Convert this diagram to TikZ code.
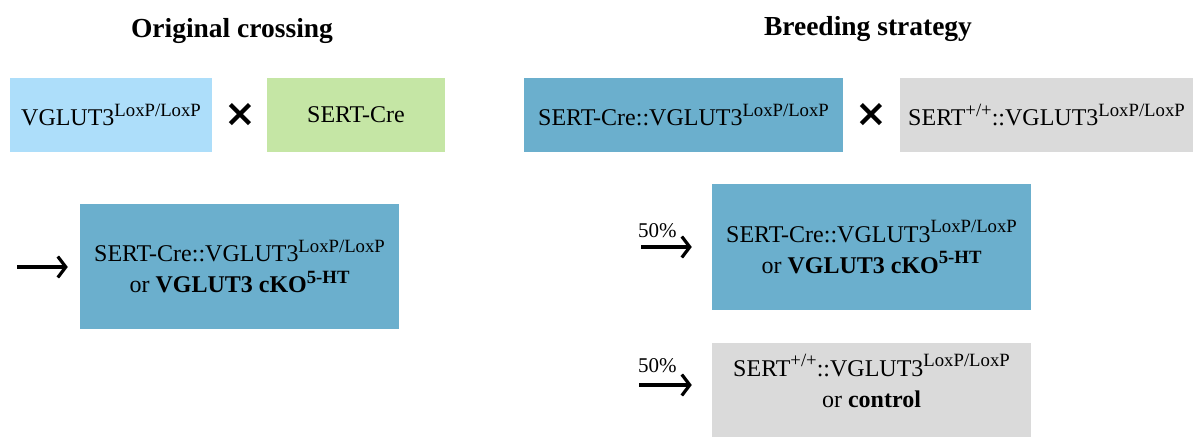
\documentclass[tikz,border=0pt]{standalone}
\usepackage{fontspec}
\usepackage{graphicx}
\setmainfont{Liberation Serif}
\newfontfamily\symf{DejaVu Sans}
\usetikzlibrary{arrows.meta}
\definecolor{lblue}{HTML}{ADDEFA}
\definecolor{lgreen}{HTML}{C5E6A5}
\definecolor{mblue}{HTML}{6BAFCD}
\definecolor{lgray}{HTML}{DADADA}
\newcommand\fa{\fontsize{24}{31}\selectfont}
\newcommand\supr[1]{\raisebox{0.4em}{\scalebox{0.78}{#1}}}
\tikzset{
  gbox/.style={rectangle, inner sep=0pt, align=center, font=\fa},
  titl/.style={font=\fontsize{27.5}{32}\selectfont\bfseries, anchor=base},
  cross/.style={font=\symf\bfseries\fontsize{38}{38}\selectfont},
  pct/.style={font=\fontsize{21}{24}\selectfont, anchor=base west, inner sep=0pt},
  arr/.style={line width=3.2pt, -{Straight Barb[length=8pt,width=21pt]}}
}
\begin{document}
\begin{tikzpicture}[x=1pt,y=-1pt]
\useasboundingbox (0,0) rectangle (1193,437);
% titles
\node[titl] (t1) at (232,37) {Original crossing};
\node[titl] (t2) at (868,35) {Breeding strategy};
% left side
\node[gbox, fill=lblue, minimum width=202pt, minimum height=74pt] (b1) at (111,115) {VGLUT3\supr{LoxP/LoxP}};
\node[cross] (x1) at (240,115) {×};
\node[gbox, fill=lgreen, minimum width=178pt, minimum height=74pt] (b2) at (356,115) {SERT-Cre};
\node[gbox, fill=mblue, minimum width=319pt, minimum height=125pt] (b3) at (239.5,266.5) {SERT-Cre::VGLUT3\supr{LoxP/LoxP}\\or \textbf{VGLUT3 cKO\supr{5-HT}}};
\coordinate (a1) at (17,267);
\draw[arr, shorten >=12pt] (a1) -- (a1 -| b3.west);
% right side
\node[gbox, fill=mblue, minimum width=319pt, minimum height=74pt] (b4) at (683.5,115) {SERT-Cre::VGLUT3\supr{LoxP/LoxP}};
\node[cross] (x2) at (871,115) {×};
\node[gbox, fill=lgray, minimum width=293pt, minimum height=74pt] (b5) at (1046.5,115) {SERT\supr{+/+}::VGLUT3\supr{LoxP/LoxP}};
\node[gbox, fill=mblue, minimum width=319pt, minimum height=126pt] (b6) at (871.5,247) {SERT-Cre::VGLUT3\supr{LoxP/LoxP}\\or \textbf{VGLUT3 cKO\supr{5-HT}}};
\node[gbox, fill=lgray, minimum width=319pt, minimum height=94pt] (b7) at (871.5,390) {};
\node[gbox] (b7t) at (871.5,381) {SERT\supr{+/+}::VGLUT3\supr{LoxP/LoxP}\\or \textbf{control}};
\coordinate (a2) at (641,247);
\draw[arr, shorten >=20pt] (a2) -- (a2 -| b6.west);
\coordinate (a3) at (639,385);
\draw[arr, shorten >=20pt] (a3) -- (a3 -| b7.west);
\node[pct] (p1) at (638,237) {50\%};
\node[pct] (p2) at (638,372) {50\%};
\end{tikzpicture}
\end{document}
